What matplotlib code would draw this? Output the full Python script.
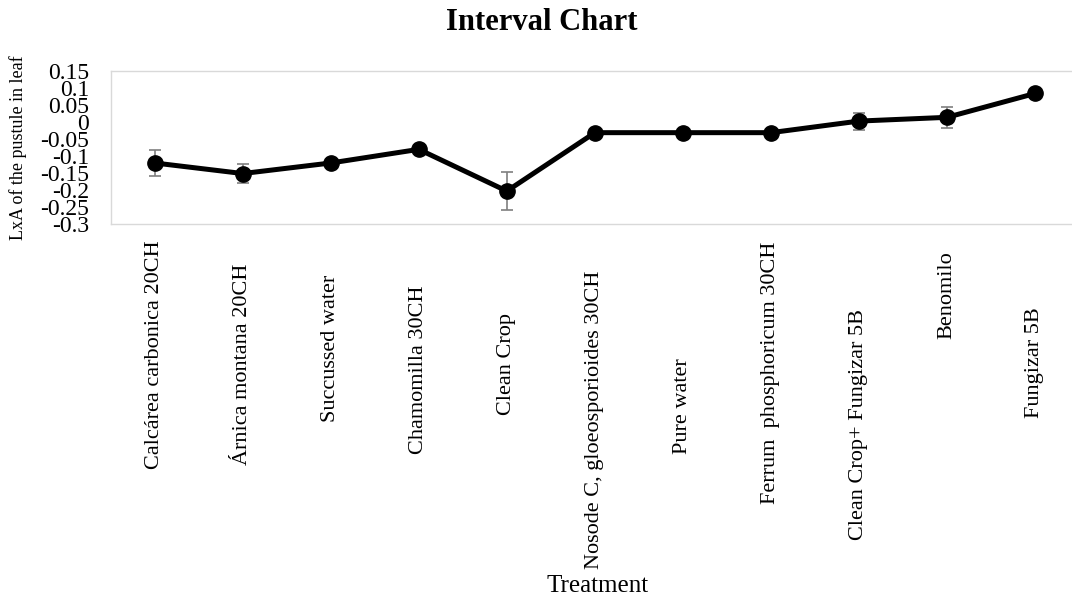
import matplotlib
matplotlib.use("Agg")
import matplotlib.pyplot as plt

treatments = ["Calcárea carbonica 20CH", "Árnica montana 20CH", "Succussed water",
              "Chamomilla 30CH", "Clean Crop", "Nosode C, gloeosporioides 30CH",
              "Pure water", "Ferrum  phosphoricum 30CH", "Clean Crop+ Fungizar 5B",
              "Benomilo", "Fungizar 5B"]
means = [-0.12, -0.151, -0.12, -0.08, -0.2025, -0.031, -0.031, -0.031, 0.003, 0.014, 0.084]
errors = [0.037, 0.027, 0.0, 0.0, 0.0565, 0.0, 0.0, 0.0, 0.025, 0.03, 0.0]
yticks = [0.15, 0.1, 0.05, 0, -0.05, -0.1, -0.15, -0.2, -0.25, -0.3]

# vertical centre of each category label, pixels from top (as in the reference)
label_centres = [355, 364, 348, 370, 364, 420, 406, 373, 425, 295, 363]

plt.rcParams['font.family'] = ['Liberation Serif', 'DejaVu Serif']
plt.rcParams['axes.unicode_minus'] = False

W, H = 1072, 600
fig = plt.figure(figsize=(W / 100, H / 100), dpi=100)
ax_l, ax_t, ax_r, ax_b = 110.7, 71.0, 1079.0, 224.3
ax = fig.add_axes([ax_l / W, 1 - ax_b / H, (ax_r - ax_l) / W, (ax_b - ax_t) / H])

x = list(range(len(treatments)))
ax.errorbar(x, means, yerr=errors, fmt='none', ecolor='#7f7f7f', elinewidth=1.2,
            capsize=4, capthick=1.2, zorder=2)
ax.plot(x, means, color='black', linewidth=3.6, marker='o', markersize=11, zorder=3)

ax.set_xlim(-0.5, len(treatments) - 0.5)
ax.set_ylim(-0.3, 0.15)
ax.set_yticks(yticks)
ax.set_yticklabels([f"{v:g}" for v in yticks], fontsize=17)
ax.tick_params(axis='y', length=0, pad=15.6)
ax.set_xticks(x)
ax.set_xticklabels(treatments, rotation=90, fontsize=16, va='center', ha='center')
ax.tick_params(axis='x', length=0, pad=0)
for lbl, yc in zip(ax.get_xticklabels(), label_centres):
    lbl.set_y(-(yc - ax_b) / (ax_b - ax_t))

for s in ax.spines.values():
    s.set_color('#d9d9d9')
    s.set_linewidth(1)

ax.set_ylabel("LxA of the pustule in leaf", fontsize=13)
ax.yaxis.set_label_coords((18 - ax_l) / (ax_r - ax_l), 0.5)
ax.yaxis.label.set_va('center')
ax.set_xlabel("Treatment", fontsize=18)
ax.xaxis.set_label_coords((598 - ax_l) / (ax_r - ax_l), -(586 - ax_b) / (ax_b - ax_t))
ax.xaxis.label.set_va('center')

fig.text(542 / W, 1 - 23 / H, "Interval Chart", fontsize=22, fontweight='bold',
         ha='center', va='center')

fig.savefig("out.png", dpi=100)
